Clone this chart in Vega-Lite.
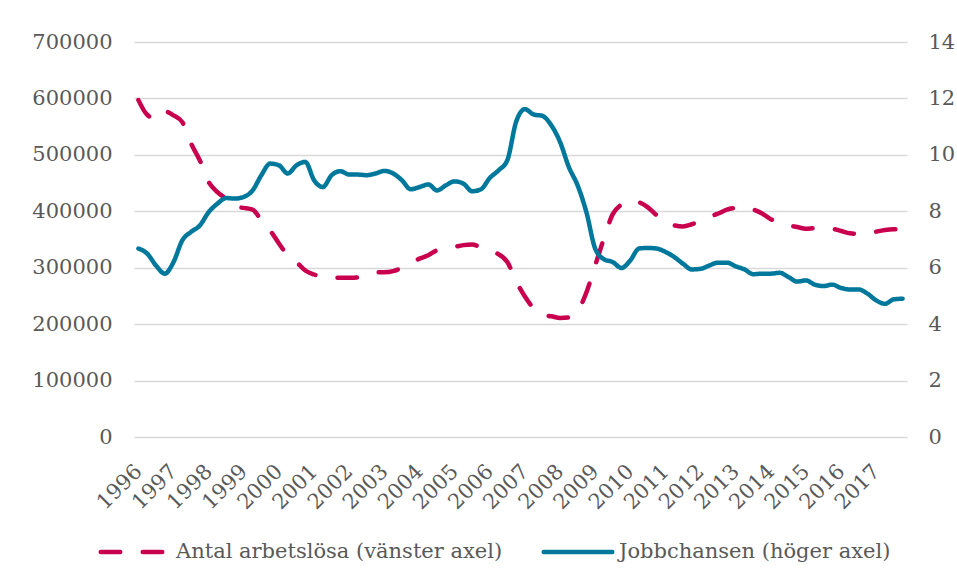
{
  "$schema": "https://vega.github.io/schema/vega-lite/v6.json",
  "width": 773,
  "height": 395,
  "autosize": {"type": "none"},
  "padding": {"left": 134, "top": 42, "right": 50, "bottom": 146},
  "background": "white",
  "config": {
    "view": {"stroke": null},
    "font": "DejaVu Serif",
    "axis": {"labelFont": "DejaVu Serif", "labelColor": "#595959", "labelFontSize": 21, "ticks": false, "domain": false, "title": null},
    "legend": {"labelFont": "DejaVu Serif", "labelColor": "#595959", "labelFontSize": 21, "labelLimit": 0}
  },
  "data": {
    "values": [
      {"t": 1996.00, "arbetslosa": 597000, "jobbchansen": 6.68},
      {"t": 1996.25, "arbetslosa": 571000, "jobbchansen": 6.50},
      {"t": 1996.50, "arbetslosa": 564000, "jobbchansen": 6.08},
      {"t": 1996.75, "arbetslosa": 577000, "jobbchansen": 5.79},
      {"t": 1997.00, "arbetslosa": 570000, "jobbchansen": 6.20},
      {"t": 1997.25, "arbetslosa": 558000, "jobbchansen": 6.97},
      {"t": 1997.50, "arbetslosa": 520000, "jobbchansen": 7.27},
      {"t": 1997.75, "arbetslosa": 490000, "jobbchansen": 7.50},
      {"t": 1998.00, "arbetslosa": 452000, "jobbchansen": 7.97},
      {"t": 1998.25, "arbetslosa": 434000, "jobbchansen": 8.27},
      {"t": 1998.50, "arbetslosa": 422000, "jobbchansen": 8.47},
      {"t": 1998.75, "arbetslosa": 408000, "jobbchansen": 8.45},
      {"t": 1999.00, "arbetslosa": 406000, "jobbchansen": 8.51},
      {"t": 1999.25, "arbetslosa": 403000, "jobbchansen": 8.74},
      {"t": 1999.50, "arbetslosa": 384000, "jobbchansen": 9.28},
      {"t": 1999.75, "arbetslosa": 366000, "jobbchansen": 9.69},
      {"t": 2000.00, "arbetslosa": 343000, "jobbchansen": 9.63},
      {"t": 2000.25, "arbetslosa": 322000, "jobbchansen": 9.34},
      {"t": 2000.50, "arbetslosa": 310000, "jobbchansen": 9.63},
      {"t": 2000.75, "arbetslosa": 295000, "jobbchansen": 9.75},
      {"t": 2001.00, "arbetslosa": 288000, "jobbchansen": 9.10},
      {"t": 2001.25, "arbetslosa": 283000, "jobbchansen": 8.86},
      {"t": 2001.50, "arbetslosa": 282000, "jobbchansen": 9.28},
      {"t": 2001.75, "arbetslosa": 282000, "jobbchansen": 9.42},
      {"t": 2002.00, "arbetslosa": 282000, "jobbchansen": 9.30},
      {"t": 2002.25, "arbetslosa": 283000, "jobbchansen": 9.30},
      {"t": 2002.50, "arbetslosa": 289000, "jobbchansen": 9.28},
      {"t": 2002.75, "arbetslosa": 292000, "jobbchansen": 9.34},
      {"t": 2003.00, "arbetslosa": 292000, "jobbchansen": 9.43},
      {"t": 2003.25, "arbetslosa": 294000, "jobbchansen": 9.34},
      {"t": 2003.50, "arbetslosa": 300000, "jobbchansen": 9.10},
      {"t": 2003.75, "arbetslosa": 309000, "jobbchansen": 8.78},
      {"t": 2004.00, "arbetslosa": 316000, "jobbchansen": 8.86},
      {"t": 2004.25, "arbetslosa": 322000, "jobbchansen": 8.95},
      {"t": 2004.50, "arbetslosa": 331000, "jobbchansen": 8.74},
      {"t": 2004.75, "arbetslosa": 334000, "jobbchansen": 8.92},
      {"t": 2005.00, "arbetslosa": 337000, "jobbchansen": 9.06},
      {"t": 2005.25, "arbetslosa": 340000, "jobbchansen": 8.98},
      {"t": 2005.50, "arbetslosa": 341000, "jobbchansen": 8.71},
      {"t": 2005.75, "arbetslosa": 336000, "jobbchansen": 8.78},
      {"t": 2006.00, "arbetslosa": 328000, "jobbchansen": 9.18},
      {"t": 2006.25, "arbetslosa": 324000, "jobbchansen": 9.45},
      {"t": 2006.50, "arbetslosa": 310000, "jobbchansen": 9.81},
      {"t": 2006.75, "arbetslosa": 276000, "jobbchansen": 11.17},
      {"t": 2007.00, "arbetslosa": 249000, "jobbchansen": 11.62},
      {"t": 2007.25, "arbetslosa": 228000, "jobbchansen": 11.43},
      {"t": 2007.50, "arbetslosa": 216000, "jobbchansen": 11.38},
      {"t": 2007.75, "arbetslosa": 214000, "jobbchansen": 11.05},
      {"t": 2008.00, "arbetslosa": 211000, "jobbchansen": 10.46},
      {"t": 2008.25, "arbetslosa": 212000, "jobbchansen": 9.57},
      {"t": 2008.50, "arbetslosa": 223000, "jobbchansen": 8.92},
      {"t": 2008.75, "arbetslosa": 256000, "jobbchansen": 7.97},
      {"t": 2009.00, "arbetslosa": 304000, "jobbchansen": 6.68},
      {"t": 2009.25, "arbetslosa": 352000, "jobbchansen": 6.30},
      {"t": 2009.50, "arbetslosa": 395000, "jobbchansen": 6.20},
      {"t": 2009.75, "arbetslosa": 412000, "jobbchansen": 5.99},
      {"t": 2010.00, "arbetslosa": 419000, "jobbchansen": 6.26},
      {"t": 2010.25, "arbetslosa": 416000, "jobbchansen": 6.68},
      {"t": 2010.50, "arbetslosa": 407000, "jobbchansen": 6.70},
      {"t": 2010.75, "arbetslosa": 393000, "jobbchansen": 6.68},
      {"t": 2011.00, "arbetslosa": 380000, "jobbchansen": 6.56},
      {"t": 2011.25, "arbetslosa": 375000, "jobbchansen": 6.38},
      {"t": 2011.50, "arbetslosa": 373000, "jobbchansen": 6.14},
      {"t": 2011.75, "arbetslosa": 377000, "jobbchansen": 5.94},
      {"t": 2012.00, "arbetslosa": 383000, "jobbchansen": 5.96},
      {"t": 2012.25, "arbetslosa": 390000, "jobbchansen": 6.08},
      {"t": 2012.50, "arbetslosa": 396000, "jobbchansen": 6.18},
      {"t": 2012.75, "arbetslosa": 403000, "jobbchansen": 6.18},
      {"t": 2013.00, "arbetslosa": 406000, "jobbchansen": 6.05},
      {"t": 2013.25, "arbetslosa": 407000, "jobbchansen": 5.94},
      {"t": 2013.50, "arbetslosa": 403000, "jobbchansen": 5.77},
      {"t": 2013.75, "arbetslosa": 396000, "jobbchansen": 5.79},
      {"t": 2014.00, "arbetslosa": 386000, "jobbchansen": 5.79},
      {"t": 2014.25, "arbetslosa": 379000, "jobbchansen": 5.82},
      {"t": 2014.50, "arbetslosa": 375000, "jobbchansen": 5.67},
      {"t": 2014.75, "arbetslosa": 372000, "jobbchansen": 5.51},
      {"t": 2015.00, "arbetslosa": 369000, "jobbchansen": 5.55},
      {"t": 2015.25, "arbetslosa": 370000, "jobbchansen": 5.40},
      {"t": 2015.50, "arbetslosa": 370000, "jobbchansen": 5.35},
      {"t": 2015.75, "arbetslosa": 369000, "jobbchansen": 5.40},
      {"t": 2016.00, "arbetslosa": 365000, "jobbchansen": 5.28},
      {"t": 2016.25, "arbetslosa": 361000, "jobbchansen": 5.23},
      {"t": 2016.50, "arbetslosa": 360000, "jobbchansen": 5.23},
      {"t": 2016.75, "arbetslosa": 360000, "jobbchansen": 5.08},
      {"t": 2017.00, "arbetslosa": 364000, "jobbchansen": 4.84},
      {"t": 2017.25, "arbetslosa": 367000, "jobbchansen": 4.72},
      {"t": 2017.50, "arbetslosa": 368000, "jobbchansen": 4.88},
      {"t": 2017.75, "arbetslosa": 368000, "jobbchansen": 4.90}
    ]
  },
  "encoding": {
    "x": {
      "field": "t",
      "type": "quantitative",
      "scale": {"domain": [1995.875, 2017.875], "nice": false, "zero": false},
      "axis": {
        "values": [1996, 1997, 1998, 1999, 2000, 2001, 2002, 2003, 2004, 2005, 2006, 2007, 2008, 2009, 2010, 2011, 2012, 2013, 2014, 2015, 2016, 2017],
        "format": "d",
        "labelAngle": -45,
        "labelAlign": "right",
        "labelBaseline": "middle",
        "labelPadding": 31,
        "labelOffset": 0,
        "grid": false,
        "labelOverlap": false,
        "labelFontSize": 21
      }
    }
  },
  "layer": [
    {
      "mark": {"type": "line", "strokeWidth": 4.5, "strokeCap": "round", "interpolate": "monotone"},
      "encoding": {
        "y": {
          "field": "arbetslosa",
          "type": "quantitative",
          "scale": {"domain": [0, 700000], "nice": false},
          "axis": {
            "orient": "left",
            "values": [0, 100000, 200000, 300000, 400000, 500000, 600000, 700000],
            "format": "d",
            "labelPadding": 22,
            "grid": true,
            "gridColor": "#d9d9d9",
            "gridWidth": 1.3
          }
        },
        "color": {
          "datum": "Antal arbetslösa (vänster axel)",
          "type": "nominal",
          "scale": {"domain": ["Antal arbetslösa (vänster axel)", "Jobbchansen (höger axel)"], "range": ["#C8004E", "#00789C"]},
          "legend": {
            "orient": "none",
            "direction": "horizontal",
            "columns": 2,
            "legendX": -36,
            "legendY": 473,
            "title": null,
            "symbolType": "stroke",
            "symbolSize": 4700,
            "symbolStrokeWidth": 4.5,
            "labelOffset": 4,
            "columnPadding": 31,
            "labelLimit": 0,
            "encode": {"symbols": {"update": {"strokeCap": {"value": "round"}}}}
          }
        },
        "strokeDash": {
          "datum": "Antal arbetslösa (vänster axel)",
          "type": "nominal",
          "scale": {"domain": ["Antal arbetslösa (vänster axel)", "Jobbchansen (höger axel)"], "range": [[19.5, 22.5], [1, 0]]},
          "legend": null
        }
      }
    },
    {
      "mark": {"type": "line", "strokeWidth": 4.5, "strokeCap": "round", "interpolate": "monotone"},
      "encoding": {
        "y": {
          "field": "jobbchansen",
          "type": "quantitative",
          "scale": {"domain": [0, 14], "nice": false},
          "axis": {
            "orient": "right",
            "values": [0, 2, 4, 6, 8, 10, 12, 14],
            "format": "d",
            "labelPadding": 21,
            "grid": false
          }
        },
        "color": {"datum": "Jobbchansen (höger axel)", "type": "nominal"},
        "strokeDash": {"datum": "Jobbchansen (höger axel)", "type": "nominal"}
      }
    }
  ],
  "resolve": {"scale": {"y": "independent"}}
}
